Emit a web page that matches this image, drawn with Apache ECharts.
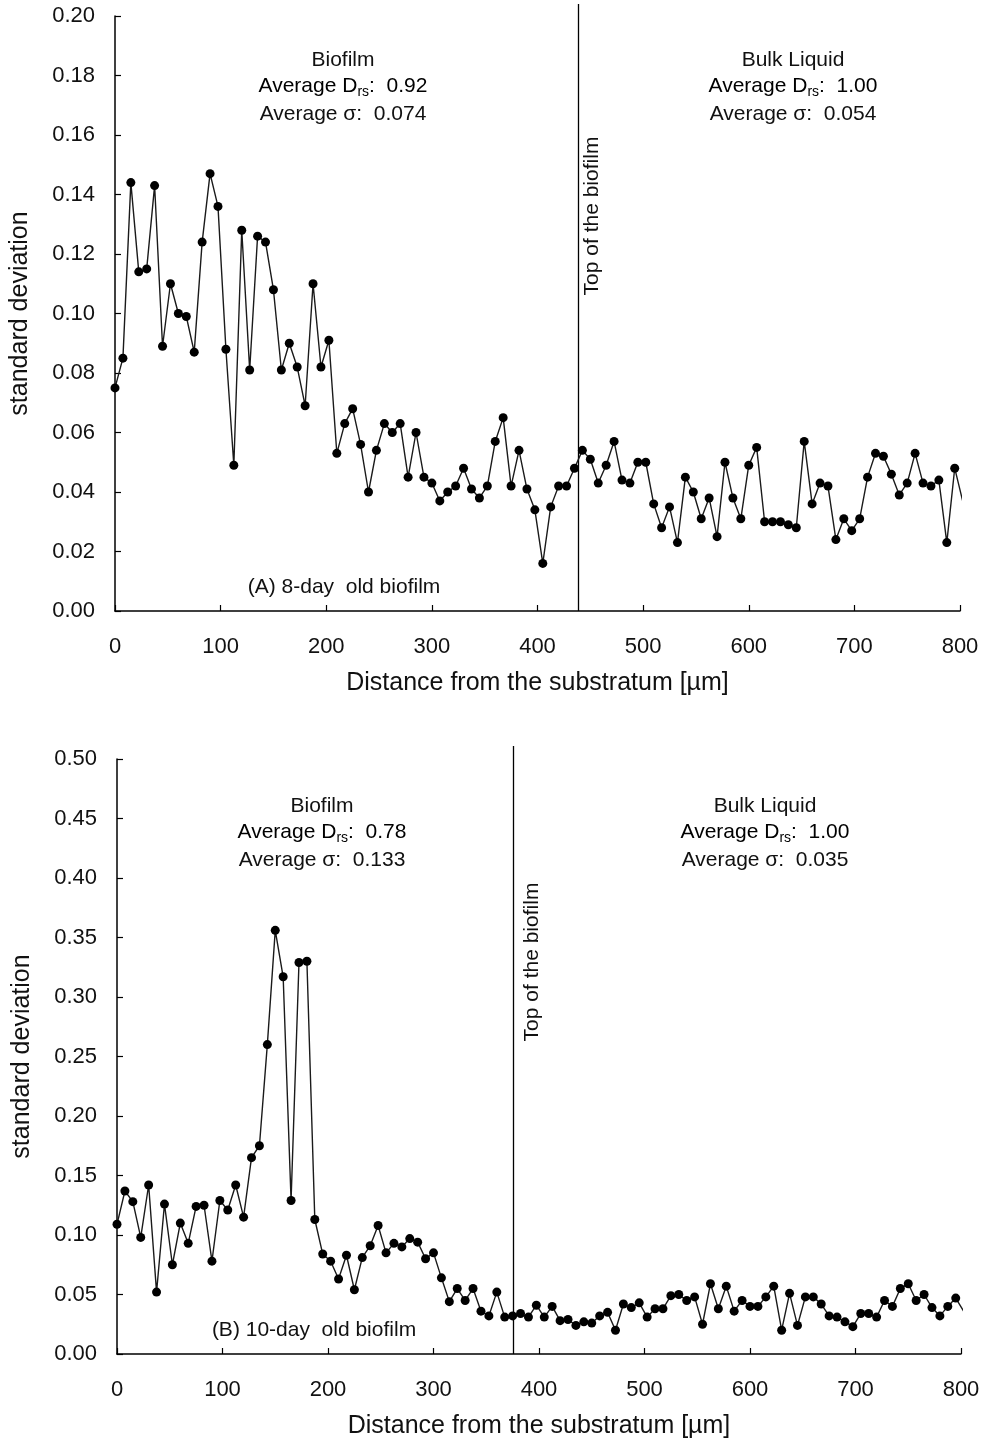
<!DOCTYPE html>
<html>
<head>
<meta charset="utf-8">
<script src="https://cdn.jsdelivr.net/npm/echarts@6/dist/echarts.min.js"></script>
<style>
  html, body { margin: 0; padding: 0; background: #fff; }
  #chart { width: 984px; height: 1443px; }
</style>
</head>
<body>
<div id="chart"></div>
<script>
// sampling step along the depth axis (µm)
const depthStep = 7.5;

// (A) 8-day old biofilm: standard deviation per depth slice
const sigma8day = [
  0.075, 0.085, 0.144, 0.114, 0.115, 0.143, 0.089, 0.110, 0.100, 0.099,
  0.087, 0.124, 0.147, 0.136, 0.088, 0.049, 0.128, 0.081, 0.126, 0.124,
  0.108, 0.081, 0.090, 0.082, 0.069, 0.110, 0.082, 0.091, 0.053, 0.063,
  0.068, 0.056, 0.040, 0.054, 0.063, 0.060, 0.063, 0.045, 0.060, 0.045,
  0.043, 0.037, 0.040, 0.042, 0.048, 0.041, 0.038, 0.042, 0.057, 0.065,
  0.042, 0.054, 0.041, 0.034, 0.016, 0.035, 0.042, 0.042, 0.048, 0.054,
  0.051, 0.043, 0.049, 0.057, 0.044, 0.043, 0.050, 0.050, 0.036, 0.028,
  0.035, 0.023, 0.045, 0.040, 0.031, 0.038, 0.025, 0.050, 0.038, 0.031,
  0.049, 0.055, 0.030, 0.030, 0.030, 0.029, 0.028, 0.057, 0.036, 0.043,
  0.042, 0.024, 0.031, 0.027, 0.031, 0.045, 0.053, 0.052, 0.046, 0.039,
  0.043, 0.053, 0.043, 0.042, 0.044, 0.023, 0.048, 0.037
];

// (B) 10-day old biofilm
const sigma10day = [
  0.109, 0.137, 0.128, 0.098, 0.142, 0.052, 0.126, 0.075, 0.110, 0.093,
  0.124, 0.125, 0.078, 0.129, 0.121, 0.142, 0.115, 0.165, 0.175, 0.260,
  0.356, 0.317, 0.129, 0.329, 0.330, 0.113, 0.084, 0.078, 0.063, 0.083,
  0.054, 0.081, 0.091, 0.108, 0.085, 0.093, 0.090, 0.097, 0.094, 0.080,
  0.085, 0.064, 0.044, 0.055, 0.045, 0.055, 0.036, 0.032, 0.052, 0.031,
  0.032, 0.034, 0.031, 0.041, 0.031, 0.040, 0.028, 0.029, 0.024, 0.027,
  0.026, 0.032, 0.035, 0.020, 0.042, 0.039, 0.043, 0.031, 0.038, 0.038,
  0.049, 0.050, 0.045, 0.048, 0.025, 0.059, 0.038, 0.057, 0.036, 0.045,
  0.040, 0.040, 0.048, 0.057, 0.020, 0.051, 0.024, 0.048, 0.048, 0.042,
  0.032, 0.031, 0.027, 0.023, 0.034, 0.034, 0.031, 0.045, 0.040, 0.055,
  0.059, 0.045, 0.050, 0.039, 0.032, 0.040, 0.047, 0.036
];

// biofilm top position (µm) for each panel
const biofilmTop = [438, 375];

// annotation texts
const panelLabels = ['(A) 8-day  old biofilm', '(B) 10-day  old biofilm'];
const biofilmDrs = ['0.92', '0.78'];
const biofilmSigma = ['0.074', '0.133'];
const bulkDrs = ['1.00', '1.00'];
const bulkSigma = ['0.054', '0.035'];

const FONT = '"Liberation Sans", Arial, sans-serif';
const INK = '#111';

const toPairs = (vals) => vals.map((v, i) => [i * depthStep, v]);

const chart = echarts.init(document.getElementById('chart'), null, { renderer: 'canvas' });

function xAxisCfg(gridIndex) {
  return {
    type: 'value',
    gridIndex: gridIndex,
    min: 0,
    max: 800,
    interval: 100,
    name: 'Distance from the substratum [µm]',
    nameLocation: 'middle',
    nameGap: 60,
    nameTextStyle: { color: INK, fontFamily: FONT, fontSize: 25 },
    axisLine: { show: true, onZero: false, lineStyle: { color: '#000', width: 1.5 } },
    axisTick: { show: true, inside: true, length: 6, lineStyle: { color: '#000', width: 1.2 } },
    axisLabel: { color: INK, fontFamily: FONT, fontSize: 22, margin: 25 },
    splitLine: { show: false }
  };
}

function yAxisCfg(gridIndex, max, interval) {
  return {
    type: 'value',
    gridIndex: gridIndex,
    min: 0,
    max: max,
    interval: interval,
    name: 'standard deviation',
    nameLocation: 'middle',
    nameGap: 82,
    nameTextStyle: { color: INK, fontFamily: FONT, fontSize: 25 },
    axisLine: { show: true, lineStyle: { color: '#000', width: 1.5 } },
    axisTick: { show: true, inside: true, length: 6, lineStyle: { color: '#000', width: 1.2 } },
    axisLabel: {
      color: INK, fontFamily: FONT, fontSize: 22, margin: 20,
      formatter: (v) => v.toFixed(2)
    },
    splitLine: { show: false }
  };
}

function seriesCfg(idx, vals) {
  return {
    type: 'line',
    xAxisIndex: idx,
    yAxisIndex: idx,
    data: toPairs(vals),
    symbol: 'circle',
    symbolSize: 9,
    showAllSymbol: true,
    clip: true,
    animation: false,
    lineStyle: { color: '#1a1a1a', width: 1.4 },
    itemStyle: { color: '#000' }
  };
}

chart.setOption({
  backgroundColor: '#fff',
  animation: false,
  grid: [
    { left: 115, top: 16, width: 845, height: 595 },
    { left: 117, top: 759, width: 844, height: 595 }
  ],
  xAxis: [xAxisCfg(0), xAxisCfg(1)],
  yAxis: [yAxisCfg(0, 0.2, 0.02), yAxisCfg(1, 0.5, 0.05)],
  series: [seriesCfg(0, sigma8day), seriesCfg(1, sigma10day)]
});

// annotation layout (pixels)
const layout = [
  { bioX: 343, bulkX: 793, rowY: [60, 86, 114], labelX: 344, labelY: 587, topTextDx: 14, topTextY: 216, lineExt: 12 },
  { bioX: 322, bulkX: 765, rowY: [806, 832, 860], labelX: 314, labelY: 1330, topTextDx: 19, topTextY: 962, lineExt: 13 }
];

const rich = {
  n: { fontFamily: FONT, fontSize: 21, color: INK },
  sub: { fontFamily: FONT, fontSize: 14, color: INK, padding: [12, 0, 0, 0] }
};

function centered(x, y, text, extra) {
  return Object.assign({
    type: 'text',
    x: x,
    y: y,
    silent: true,
    style: {
      text: text,
      fontFamily: FONT,
      fontSize: 21,
      fill: INK,
      align: 'center',
      verticalAlign: 'middle'
    }
  }, extra || {});
}

function richRow(x, y, head, value) {
  return {
    type: 'text',
    x: x,
    y: y,
    silent: true,
    style: {
      text: '{n|' + head + '}{sub|rs}{n|:  ' + value + '}',
      rich: rich,
      align: 'center',
      verticalAlign: 'middle'
    }
  };
}

const graphics = [];
layout.forEach((L, i) => {
  const top = chart.convertToPixel({ gridIndex: i }, [biofilmTop[i], i === 0 ? 0.2 : 0.5]);
  const bottom = chart.convertToPixel({ gridIndex: i }, [biofilmTop[i], 0]);
  const lx = Math.round(top[0]) + 0.5;

  graphics.push({
    type: 'line',
    silent: true,
    shape: { x1: lx, y1: top[1] - L.lineExt, x2: lx, y2: bottom[1] },
    style: { stroke: '#000', lineWidth: 1.3 }
  });
  graphics.push(centered(lx + L.topTextDx, L.topTextY, 'Top of the biofilm', { rotation: Math.PI / 2 }));

  graphics.push(centered(L.bioX, L.rowY[0], 'Biofilm'));
  graphics.push(richRow(L.bioX, L.rowY[1], 'Average D', biofilmDrs[i]));
  graphics.push(centered(L.bioX, L.rowY[2], 'Average σ:  ' + biofilmSigma[i]));

  graphics.push(centered(L.bulkX, L.rowY[0], 'Bulk Liquid'));
  graphics.push(richRow(L.bulkX, L.rowY[1], 'Average D', bulkDrs[i]));
  graphics.push(centered(L.bulkX, L.rowY[2], 'Average σ:  ' + bulkSigma[i]));

  graphics.push(centered(L.labelX, L.labelY, panelLabels[i]));
});

chart.setOption({ graphic: graphics });
</script>
</body>
</html>
